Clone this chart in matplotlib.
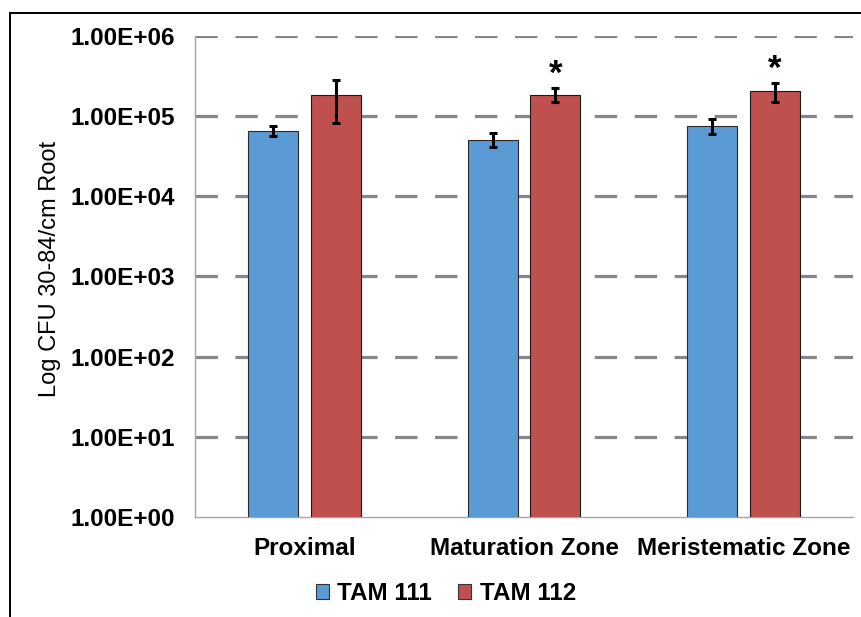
import matplotlib
matplotlib.use("Agg")
import matplotlib.pyplot as plt
from matplotlib.lines import Line2D
import numpy as np

categories = ["Proximal", "Maturation Zone", "Meristematic Zone"]
series_names = ["TAM 111", "TAM 112"]
tam111 = [6.6e4, 5.1e4, 7.6e4]
tam111_err = [1.0e4, 1.0e4, 1.6e4]
tam112 = [1.83e5, 1.86e5, 2.07e5]
tam112_err = [1.0e5, 3.8e4, 5.5e4]
significant_112 = [False, True, True]
yticks = [1e0, 1e1, 1e2, 1e3, 1e4, 1e5, 1e6]
ytick_labels = ["1.00E+00", "1.00E+01", "1.00E+02", "1.00E+03", "1.00E+04", "1.00E+05", "1.00E+06"]
ylabel = "Log CFU 30-84/cm Root"

plt.rcParams['font.family'] = ['Liberation Sans', 'DejaVu Sans']

fig = plt.figure(figsize=(8.62, 6.17), dpi=100)
ax = fig.add_axes([0.2262, 0.1621, 0.9896 - 0.2262, 0.9417 - 0.1621])

x = np.arange(len(categories))
w = 0.227
off = 0.143
blue = "#5B9BD5"
red = "#C0504D"

ax.bar(x - off, tam111, w, color=blue, edgecolor="#2b2b2b", linewidth=0.8, zorder=3,
       label=series_names[0])
ax.bar(x + off, tam112, w, color=red, edgecolor="#1a1a1a", linewidth=0.8, zorder=3,
       label=series_names[1])
ax.errorbar(x - off, tam111, yerr=tam111_err, fmt='none', ecolor='black',
            elinewidth=2.2, capsize=3.2, capthick=2.2, zorder=4)
ax.errorbar(x + off, tam112, yerr=tam112_err, fmt='none', ecolor='black',
            elinewidth=2.2, capsize=3.2, capthick=2.2, zorder=4)

for xi, v, e, s in zip(x, tam112, tam112_err, significant_112):
    if s:
        ax.annotate("*", xy=(xi + off, v + e), xytext=(0, -2), textcoords="offset points",
                    ha="center", va="bottom", fontsize=25, fontweight="bold")

ax.set_yscale("log")
ax.set_ylim(1, 1e6)
ax.set_xlim(-0.5, 2.5)
ax.set_yticks(yticks)
ax.set_yticklabels(ytick_labels, fontsize=17.5, fontweight="bold")
ax.yaxis.set_minor_locator(matplotlib.ticker.NullLocator())
ax.set_xticks(x)
ax.set_xticklabels(categories, fontsize=17.5, fontweight="bold")
ax.tick_params(axis="both", length=0)
ax.tick_params(axis="y", pad=14.5)
ax.tick_params(axis="x", pad=14.5)

for v in yticks[1:]:
    ln = ax.axhline(v, color="#868686", linewidth=2.3, zorder=1)
    ln.set_dashes([7, 5.5])
    ln.set_dash_capstyle("butt")

for sp in ["top", "right"]:
    ax.spines[sp].set_visible(False)
for sp in ["left", "bottom"]:
    ax.spines[sp].set_color("#a6a6a6")
    ax.spines[sp].set_linewidth(1.0)

ax.set_ylabel(ylabel, fontsize=17, fontweight="normal")
ax.yaxis.set_label_coords(-0.203, 0.5166)

leg = ax.legend(loc="upper center", bbox_to_anchor=(0.381, -0.09), ncol=2, frameon=False,
                prop={"size": 17.5, "weight": "bold"}, handlelength=0.55, handleheight=0.55,
                handletextpad=0.35, columnspacing=1.05)
for p in leg.get_patches():
    p.set_edgecolor("#333333")

fig.add_artist(Line2D([10 / 862, 10 / 862], [0, 1 - 13 / 617], transform=fig.transFigure,
                      color="black", linewidth=1.4))
fig.add_artist(Line2D([10 / 862, 1], [1 - 13 / 617, 1 - 13 / 617], transform=fig.transFigure,
                      color="black", linewidth=1.4))

fig.savefig("out.png", dpi=100)
